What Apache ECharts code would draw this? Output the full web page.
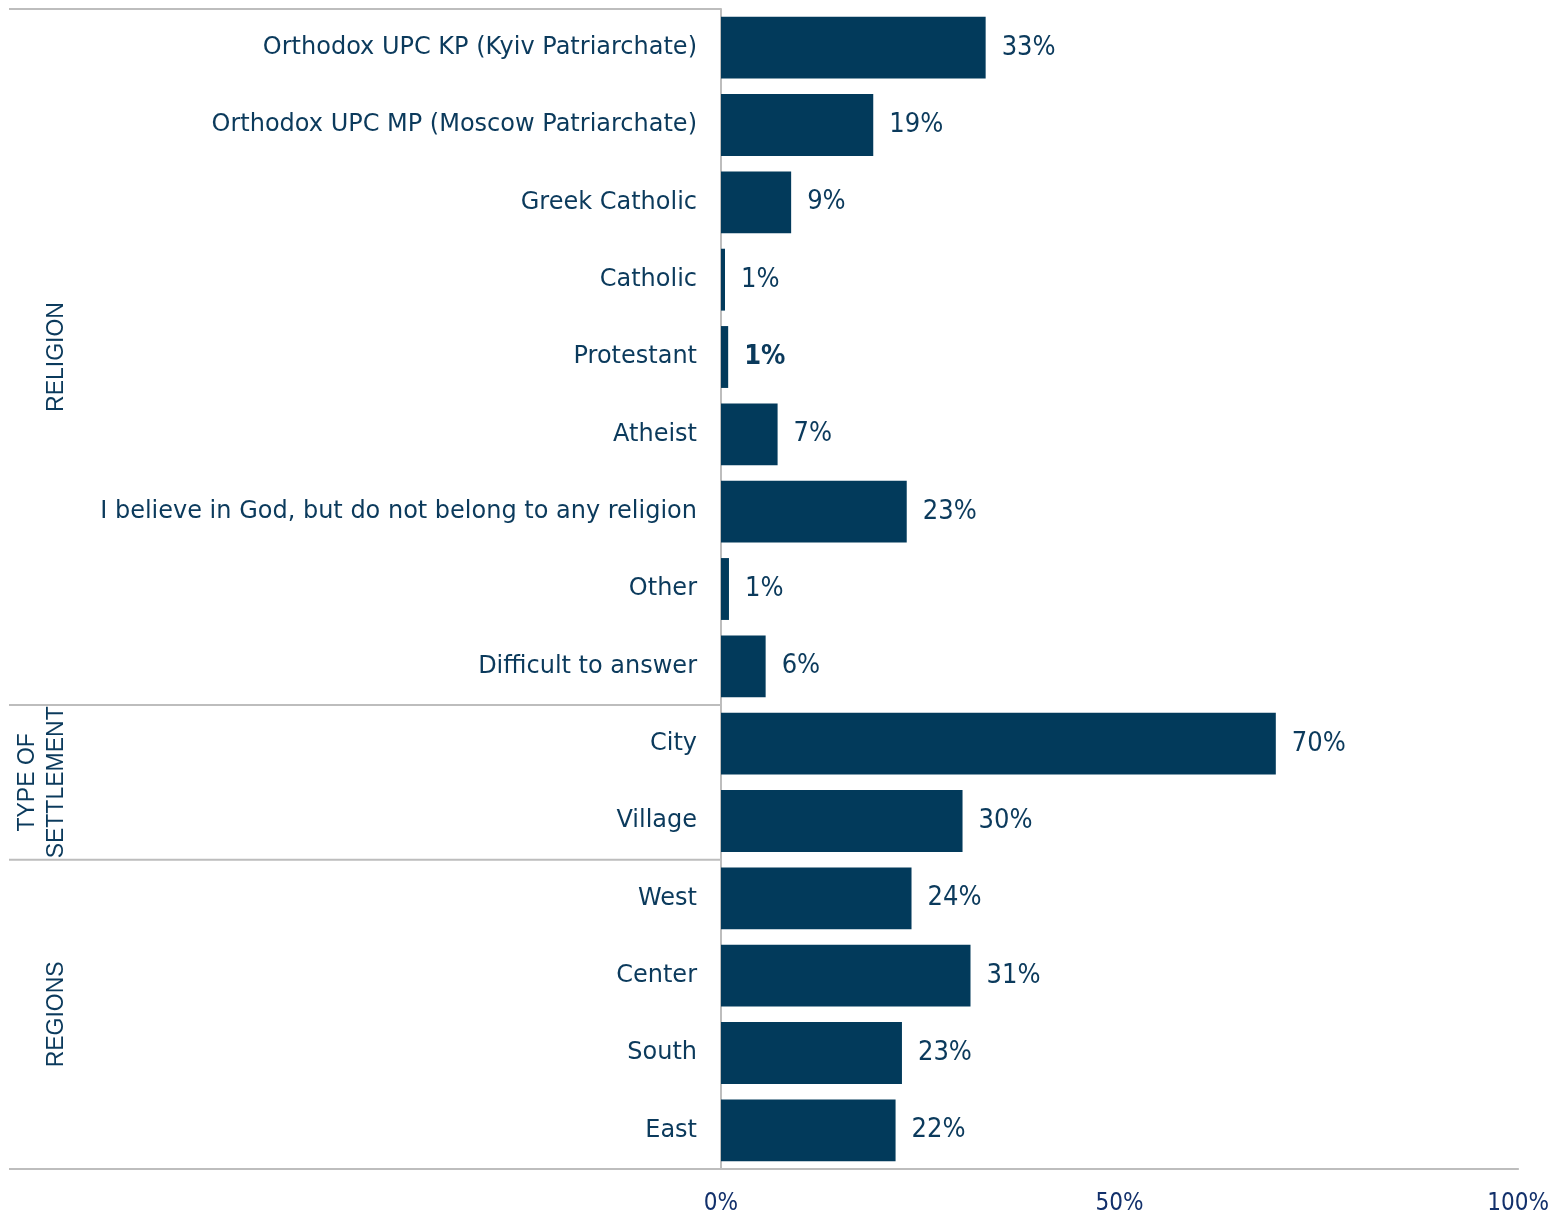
<!DOCTYPE html>
<html>
<head>
<meta charset="utf-8">
<script src="https://cdn.jsdelivr.net/npm/echarts@6/dist/echarts.min.js"></script>
<style>
  html, body { margin: 0; padding: 0; background: #fff; }
  #main { width: 1552px; height: 1217px; }
</style>
</head>
<body>
<div id="main"></div>
<script>
var categories = [
  "Orthodox UPC KP (Kyiv Patriarchate)",
  "Orthodox UPC MP (Moscow Patriarchate)",
  "Greek Catholic",
  "Catholic",
  "Protestant",
  "Atheist",
  "I believe in God, but do not belong to any religion",
  "Other",
  "Difficult to answer",
  "City",
  "Village",
  "West",
  "Center",
  "South",
  "East"
];
var values = [33.2, 19.1, 8.8, 0.5, 0.9, 7.1, 23.3, 1.0, 5.6, 69.6, 30.3, 23.9, 31.3, 22.7, 21.9];
var valueLabels = ["33%", "19%", "9%", "1%", "1%", "7%", "23%", "1%", "6%", "70%", "30%", "24%", "31%", "23%", "22%"];
var boldLabels = ["Protestant"];
var groupNames = ["RELIGION", "TYPE OF\nSETTLEMENT", "REGIONS"];
var groupSizes = [9, 2, 4];
var xTicks = [0, 50, 100];

var navy = "#023a5b";
var textColor = "#0b3a5c";
var lineGray = "#bdbdbd";
var font = "DejaVu Sans Condensed";

var chartDom = document.getElementById("main");
var myChart = echarts.init(chartDom);
var option;

var seriesData = values.map(function (v, i) {
  var item = { value: v };
  if (boldLabels.indexOf(categories[i]) >= 0) {
    item.label = { fontWeight: "bold" };
  }
  return item;
});

option = {
  animation: false,
  grid: {
    left: 721,
    right: 32,
    top: 9,
    bottom: 48,
    containLabel: false
  },
  xAxis: {
    type: "value",
    min: xTicks[0],
    max: xTicks[xTicks.length - 1],
    interval: xTicks[1] - xTicks[0],
    axisLine: { show: true, lineStyle: { color: lineGray, width: 2 } },
    axisTick: { show: false },
    splitLine: { show: false },
    axisLabel: {
      formatter: "{value}%",
      color: "#12306b",
      fontFamily: font,
      fontSize: 24,
      margin: 23
    }
  },
  yAxis: {
    type: "category",
    inverse: true,
    data: categories,
    axisLine: { show: true, lineStyle: { color: lineGray, width: 2 } },
    axisTick: { show: false },
    axisLabel: {
      color: textColor,
      fontFamily: "DejaVu Sans",
      fontSize: 24,
      margin: 24,
      padding: [2, 0, 0, 0]
    }
  },
  series: [
    {
      type: "bar",
      data: seriesData,
      barCategoryGap: "20%",
      itemStyle: { color: navy },
      label: {
        show: true,
        position: "right",
        distance: 16,
        color: textColor,
        fontFamily: font,
        fontSize: 27,
        padding: [2, 0, 0, 0],
        formatter: function (p) {
          return valueLabels[p.dataIndex];
        }
      }
    }
  ]
};

option && myChart.setOption(option);

// group separators and vertical group names
function drawGroups() {
  var elements = [];
  var axisX = myChart.convertToPixel({ xAxisIndex: 0 }, 0);
  var c0 = myChart.convertToPixel({ yAxisIndex: 0 }, 0);
  var c1 = myChart.convertToPixel({ yAxisIndex: 0 }, 1);
  var band = c1 - c0;
  var start = 0;
  var leftX = 9;
  var topY = c0 - band / 2;
  elements.push({
    type: "line",
    shape: { x1: leftX, y1: topY, x2: axisX, y2: topY },
    style: { stroke: lineGray, lineWidth: 2 }
  });
  groupSizes.forEach(function (n, g) {
    var y1 = c0 + (start - 0.5) * band;
    var y2 = c0 + (start + n - 0.5) * band;
    elements.push({
      type: "line",
      shape: { x1: leftX, y1: y2, x2: axisX, y2: y2 },
      style: { stroke: lineGray, lineWidth: 2 }
    });
    var lines = groupNames[g].split("\n").length;
    elements.push({
      type: "text",
      x: 57 - (lines - 1) * 14.5,
      y: (y1 + y2) / 2,
      rotation: Math.PI / 2,
      style: {
        text: groupNames[g],
        fill: textColor,
        font: "23px 'Liberation Sans'",
        align: "center",
        verticalAlign: "middle",
        lineHeight: 29
      }
    });
    start += n;
  });
  myChart.setOption({ graphic: { elements: elements } });
}
drawGroups();

window.addEventListener("resize", function () {
  myChart.resize();
});
</script>
</body>
</html>
